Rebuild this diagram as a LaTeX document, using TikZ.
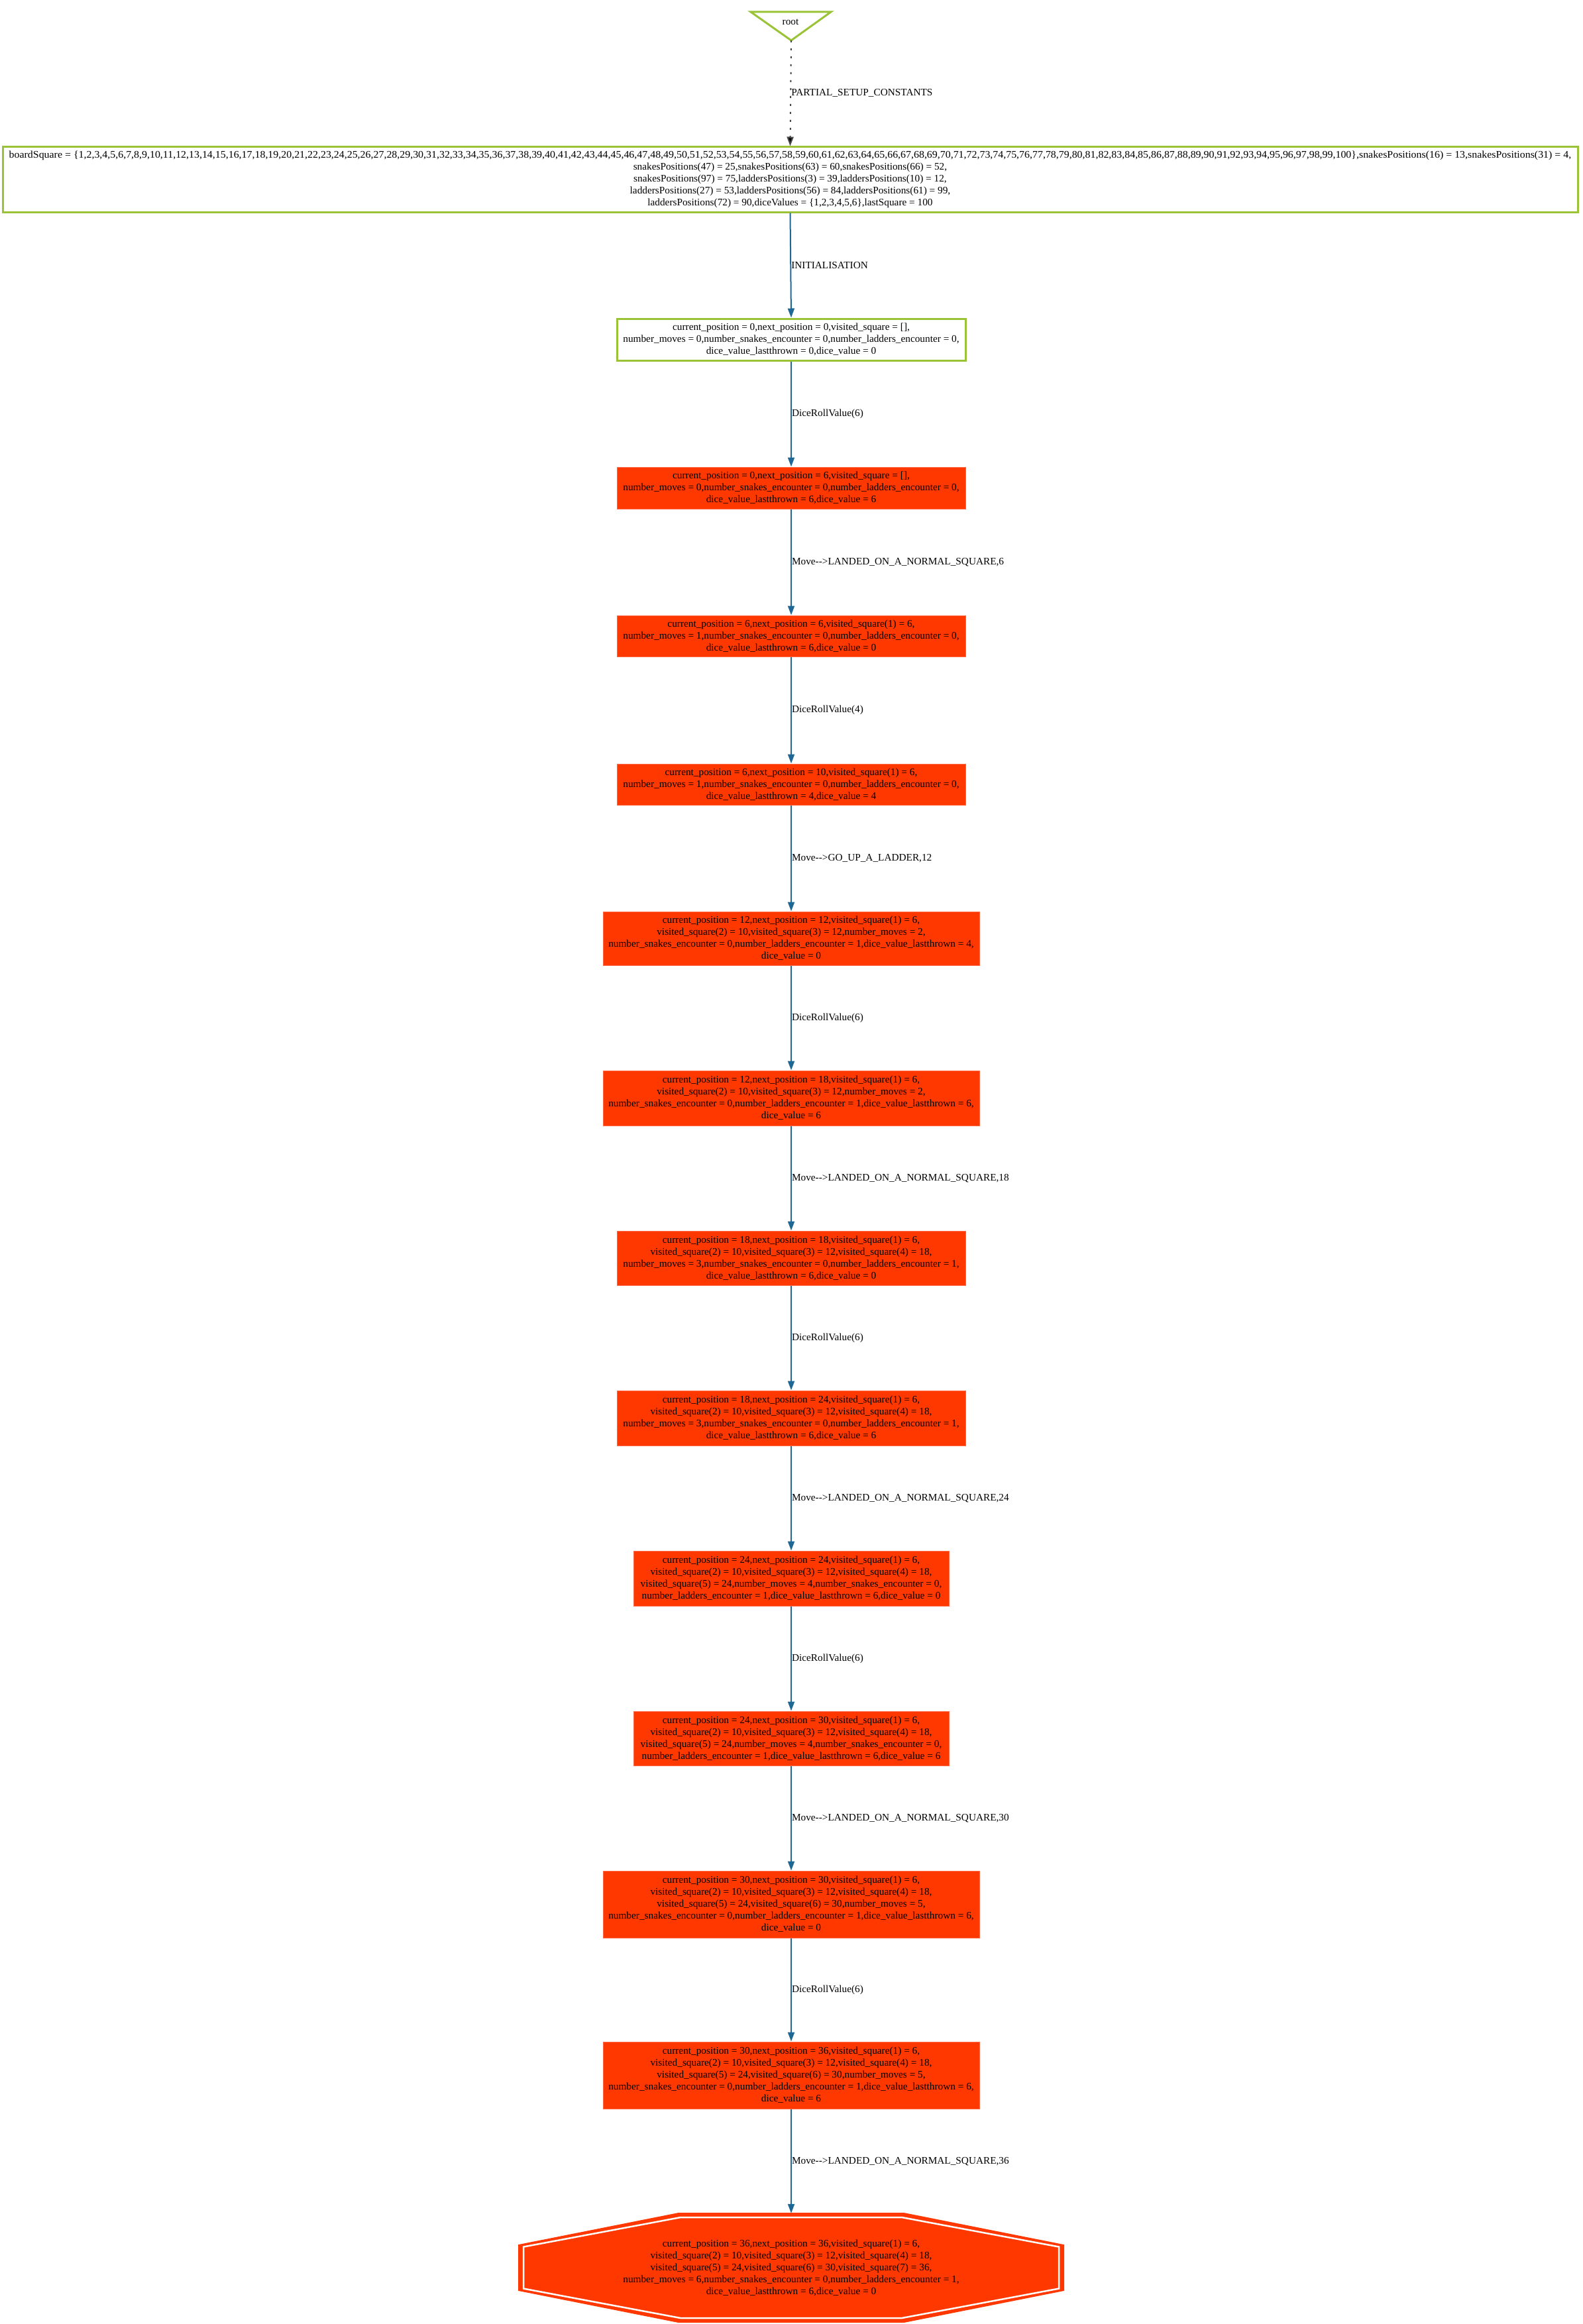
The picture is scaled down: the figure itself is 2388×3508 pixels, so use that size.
\documentclass[tikz,border=0pt]{standalone}
\usepackage{fontspec}
\usepackage{graphicx}
\setmainfont{Liberation Serif}
\usetikzlibrary{arrows.meta}
\definecolor{vgreen}{RGB}{155,195,55}
\definecolor{redfill}{RGB}{255,56,0}
\definecolor{redline}{RGB}{255,105,70}
\definecolor{edgeblue}{RGB}{31,104,150}
\definecolor{dotgray}{RGB}{70,70,70}
\newcommand\nodefont{\fontsize{15.3}{18}\selectfont}
\tikzset{
  greenbox/.style={draw=vgreen, line width=3pt, fill=white, inner sep=0pt, align=center, font=\nodefont},
  redbox/.style={draw=redline, line width=1pt, fill=redfill, inner sep=0pt, align=center, font=\nodefont},
  flow/.style={draw=edgeblue, line width=2pt, -{Triangle[length=14pt,width=10pt]}},
  lbl/.style={anchor=west, inner sep=0pt, font=\nodefont, text=black},
  sz/.style n args={2}{minimum width=#1pt, minimum height=#2pt}
}
\begin{document}
\catcode`\_=12
\begin{tikzpicture}[x=1pt,y=-1pt]
\useasboundingbox (0,0) rectangle (2388,3508);
% root
\draw[vgreen, line width=3pt, line join=miter] (1133,18) -- (1254,18) -- (1194,61) -- cycle;
\node[inner sep=0pt, font=\nodefont] (root) at (1193,33) {root};
\coordinate (rootapex) at (1194,61);
% board
\node[greenbox, sz={2377}{98}] (board) at (1192.5,271) {\scalebox{1.04}[1]{boardSquare = \{1,2,3,4,5,6,7,8,9,10,11,12,13,14,15,16,17,18,19,20,21,22,23,24,25,26,27,28,29,30,31,32,33,34,35,36,37,38,39,40,41,42,43,44,45,46,47,48,49,50,51,52,53,54,55,56,57,58,59,60,61,62,63,64,65,66,67,68,69,70,71,72,73,74,75,76,77,78,79,80,81,82,83,84,85,86,87,88,89,90,91,92,93,94,95,96,97,98,99,100\},snakesPositions(16) = 13,snakesPositions(31) = 4,}\\
snakesPositions(47) = 25,snakesPositions(63) = 60,snakesPositions(66) = 52,\\
snakesPositions(97) = 75,laddersPositions(3) = 39,laddersPositions(10) = 12,\\
laddersPositions(27) = 53,laddersPositions(56) = 84,laddersPositions(61) = 99,\\
laddersPositions(72) = 90,diceValues = \{1,2,3,4,5,6\},lastSquare = 100};
% init
\node[greenbox, sz={526}{63}] (init) at (1194,512.5) {current_position = 0,next_position = 0,visited_square = [],\\
number_moves = 0,number_snakes_encounter = 0,number_ladders_encounter = 0,\\
dice_value_lastthrown = 0,dice_value = 0};
\node[redbox, sz={526}{63}] (b2) at (1194,736.5) {current_position = 0,next_position = 6,visited_square = [],\\
number_moves = 0,number_snakes_encounter = 0,number_ladders_encounter = 0,\\
dice_value_lastthrown = 6,dice_value = 6};
\node[redbox, sz={526}{62}] (b3) at (1194,960) {current_position = 6,next_position = 6,visited_square(1) = 6,\\
number_moves = 1,number_snakes_encounter = 0,number_ladders_encounter = 0,\\
dice_value_lastthrown = 6,dice_value = 0};
\node[redbox, sz={526}{62}] (b4) at (1194,1184) {current_position = 6,next_position = 10,visited_square(1) = 6,\\
number_moves = 1,number_snakes_encounter = 0,number_ladders_encounter = 0,\\
dice_value_lastthrown = 4,dice_value = 4};
\node[redbox, sz={568}{81}] (b5) at (1194,1416.5) {current_position = 12,next_position = 12,visited_square(1) = 6,\\
visited_square(2) = 10,visited_square(3) = 12,number_moves = 2,\\
number_snakes_encounter = 0,number_ladders_encounter = 1,dice_value_lastthrown = 4,\\
dice_value = 0};
\node[redbox, sz={568}{83}] (b6) at (1194,1657.5) {current_position = 12,next_position = 18,visited_square(1) = 6,\\
visited_square(2) = 10,visited_square(3) = 12,number_moves = 2,\\
number_snakes_encounter = 0,number_ladders_encounter = 1,dice_value_lastthrown = 6,\\
dice_value = 6};
\node[redbox, sz={526}{82}] (b7) at (1194,1899) {current_position = 18,next_position = 18,visited_square(1) = 6,\\
visited_square(2) = 10,visited_square(3) = 12,visited_square(4) = 18,\\
number_moves = 3,number_snakes_encounter = 0,number_ladders_encounter = 1,\\
dice_value_lastthrown = 6,dice_value = 0};
\node[redbox, sz={526}{83}] (b8) at (1194,2140.5) {current_position = 18,next_position = 24,visited_square(1) = 6,\\
visited_square(2) = 10,visited_square(3) = 12,visited_square(4) = 18,\\
number_moves = 3,number_snakes_encounter = 0,number_ladders_encounter = 1,\\
dice_value_lastthrown = 6,dice_value = 6};
\node[redbox, sz={476}{83}] (b9) at (1194,2382.5) {current_position = 24,next_position = 24,visited_square(1) = 6,\\
visited_square(2) = 10,visited_square(3) = 12,visited_square(4) = 18,\\
visited_square(5) = 24,number_moves = 4,number_snakes_encounter = 0,\\
number_ladders_encounter = 1,dice_value_lastthrown = 6,dice_value = 0};
\node[redbox, sz={476}{82}] (b10) at (1194,2624) {current_position = 24,next_position = 30,visited_square(1) = 6,\\
visited_square(2) = 10,visited_square(3) = 12,visited_square(4) = 18,\\
visited_square(5) = 24,number_moves = 4,number_snakes_encounter = 0,\\
number_ladders_encounter = 1,dice_value_lastthrown = 6,dice_value = 6};
\node[redbox, sz={568}{101}] (b11) at (1194,2874.5) {current_position = 30,next_position = 30,visited_square(1) = 6,\\
visited_square(2) = 10,visited_square(3) = 12,visited_square(4) = 18,\\
visited_square(5) = 24,visited_square(6) = 30,number_moves = 5,\\
number_snakes_encounter = 0,number_ladders_encounter = 1,dice_value_lastthrown = 6,\\
dice_value = 0};
\node[redbox, sz={568}{101}] (b12) at (1194,3132.5) {current_position = 30,next_position = 36,visited_square(1) = 6,\\
visited_square(2) = 10,visited_square(3) = 12,visited_square(4) = 18,\\
visited_square(5) = 24,visited_square(6) = 30,number_moves = 5,\\
number_snakes_encounter = 0,number_ladders_encounter = 1,dice_value_lastthrown = 6,\\
dice_value = 6};
% final octagon
\filldraw[fill=redfill, draw=redfill, line width=2pt, line join=miter]
  (1024,3341) -- (1364,3341) -- (1605,3389) -- (1605,3457) -- (1364,3505) -- (1024,3505) -- (783,3457) -- (783,3389) -- cycle;
\draw[white, line width=2.5pt, line join=miter]
  (1027,3347) -- (1361,3347) -- (1598,3391.5) -- (1598,3454.5) -- (1361,3499) -- (1027,3499) -- (790,3454.5) -- (790,3391.5) -- cycle;
\node[inner sep=0pt, align=center, font=\nodefont, sz={822}{164}] (final) at (1194,3423) {current_position = 36,next_position = 36,visited_square(1) = 6,\\
visited_square(2) = 10,visited_square(3) = 12,visited_square(4) = 18,\\
visited_square(5) = 24,visited_square(6) = 30,visited_square(7) = 36,\\
number_moves = 6,number_snakes_encounter = 0,number_ladders_encounter = 1,\\
dice_value_lastthrown = 6,dice_value = 0};
% edges
\draw[dotgray, line width=2pt, dash pattern=on 3pt off 9pt, -{Triangle[length=14pt,width=10pt,fill=black]}] (rootapex) -- (board.north) node[lbl, pos=0.5, name=l0] {PARTIAL_SETUP_CONSTANTS};
\draw[flow] (board.south) -- (init.north) node[lbl, pos=0.5, name=l1] {INITIALISATION};
\draw[flow] (init.south) -- (b2.north) node[lbl, pos=0.5, name=l2] {DiceRollValue(6)};
\draw[flow] (b2.south) -- (b3.north) node[lbl, pos=0.5, name=l3] {Move\mbox{-}\mbox{-}>LANDED_ON_A_NORMAL_SQUARE,6};
\draw[flow] (b3.south) -- (b4.north) node[lbl, pos=0.5, name=l4] {DiceRollValue(4)};
\draw[flow] (b4.south) -- (b5.north) node[lbl, pos=0.5, name=l5] {Move\mbox{-}\mbox{-}>GO_UP_A_LADDER,12};
\draw[flow] (b5.south) -- (b6.north) node[lbl, pos=0.5, name=l6] {DiceRollValue(6)};
\draw[flow] (b6.south) -- (b7.north) node[lbl, pos=0.5, name=l7] {Move\mbox{-}\mbox{-}>LANDED_ON_A_NORMAL_SQUARE,18};
\draw[flow] (b7.south) -- (b8.north) node[lbl, pos=0.5, name=l8] {DiceRollValue(6)};
\draw[flow] (b8.south) -- (b9.north) node[lbl, pos=0.5, name=l9] {Move\mbox{-}\mbox{-}>LANDED_ON_A_NORMAL_SQUARE,24};
\draw[flow] (b9.south) -- (b10.north) node[lbl, pos=0.5, name=l10] {DiceRollValue(6)};
\draw[flow] (b10.south) -- (b11.north) node[lbl, pos=0.5, name=l11] {Move\mbox{-}\mbox{-}>LANDED_ON_A_NORMAL_SQUARE,30};
\draw[flow] (b11.south) -- (b12.north) node[lbl, pos=0.5, name=l12] {DiceRollValue(6)};
\draw[flow] (b12.south) -- (final.north) node[lbl, pos=0.5, name=l13] {Move\mbox{-}\mbox{-}>LANDED_ON_A_NORMAL_SQUARE,36};
\end{tikzpicture}
\end{document}
